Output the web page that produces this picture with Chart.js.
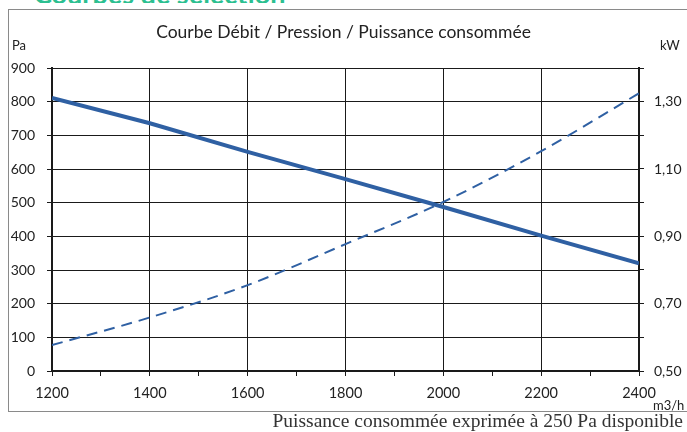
<!DOCTYPE html>
<html>
<head>
<meta charset="utf-8">
<script src="https://cdn.jsdelivr.net/npm/chart.js@4/dist/chart.umd.min.js"></script>
<style>
  html, body { margin: 0; padding: 0; background: #fff; }
  #page { position: relative; width: 687px; height: 432px; overflow: hidden; font-family: Lato, sans-serif; }
  #frame { position: absolute; left: 8px; top: 9px; width: 700px; height: 403px; border: 1.5px solid #8a8a8a; box-sizing: border-box; }
  #cv { position: absolute; left: 0; top: 0; }
  .lbl { position: absolute; color: #222; white-space: nowrap; }
  #headclip { position: absolute; left: 0; top: 0; width: 400px; height: 3px; overflow: hidden; }
  #head { position: absolute; left: 34px; bottom: -7px; line-height: 27px; font: bold 27px Lato, sans-serif; color: #2cbf90; white-space: nowrap; }
  #caption { position: absolute; right: 4px; top: 410px; font: 19.5px "Liberation Serif", serif; color: #333; white-space: nowrap; }
</style>
</head>
<body>
<div id="page">
  <div id="headclip"><div id="head">Courbes de sélection</div></div>
  <div id="frame"></div>
  <canvas id="cv" width="687" height="432"></canvas>
  <div class="lbl" style="left:12px; top:37px; font-size:13px;">Pa</div>
  <div class="lbl" style="left:660px; top:37px; font-size:13px;">kW</div>
  <div class="lbl" style="left:653px; top:397px; font-size:13px;">m3/h</div>
  <div id="caption">Puissance consommée exprimée à 250 Pa disponible</div>
</div>
<script>
// ── Data ──
const debit = [1200, 1400, 1600, 1800, 2000, 2200, 2400];          // m3/h
const pression = [811, 736, 651, 570, 487, 402, 320];                // Pa
const puissance = [0.577, 0.659, 0.755, 0.877, 1.002, 1.153, 1.325]; // kW
const title = 'Courbe Débit / Pression / Puissance consommée';

const BLUE = '#2f60a3';
const INK = '#1a1a1a';

Chart.defaults.font.family = 'Lato, sans-serif';
Chart.defaults.font.size = 14;
Chart.defaults.color = '#222';

const fit = (w, h) => scale => { if (w) scale.width = w; if (h) scale.height = h; };

new Chart(document.getElementById('cv'), {
  type: 'line',
  data: {
    datasets: [
      { label: 'Pression', data: debit.map((x, i) => ({ x, y: pression[i] })), yAxisID: 'y',
        borderColor: BLUE, borderWidth: 4, pointRadius: 0, tension: 0 },
      { label: 'Puissance', data: debit.map((x, i) => ({ x, y: puissance[i] })), yAxisID: 'y2',
        borderColor: BLUE, borderWidth: 2, borderDash: [11, 7], pointRadius: 0, cubicInterpolationMode: 'monotone' },
    ]
  },
  options: {
    responsive: false, animation: false,
    layout: { padding: { left: 0, right: 0, top: 0, bottom: 0 } },
    plugins: {
      legend: { display: false }, tooltip: { enabled: false },
      title: { display: true, text: title, color: '#222', font: { size: 17.5, weight: 'normal', lineHeight: 1.2 },
               padding: { top: 22, bottom: 25 } }
    },
    scales: {
      x: {
        type: 'linear', min: 1200, max: 2400,
        ticks: { stepSize: 100, padding: 9, maxRotation: 0, font: { size: 14.5 },
                 callback: v => v % 200 === 0 ? String(v) : '' },
        grid: { color: c => c.tick && c.tick.value % 200 === 0 ? INK : 'rgba(0,0,0,0)', tickColor: INK, tickLength: 5 },
        border: { color: INK, width: 2 },
        afterFit: fit(null, 61)
      },
      y: {
        position: 'left', min: 0, max: 900,
        ticks: { stepSize: 50, padding: 12, callback: v => v % 100 === 0 ? String(v) : '' },
        grid: { color: c => c.tick && c.tick.value % 100 === 0 ? INK : 'rgba(0,0,0,0)', tickColor: INK, tickLength: 5 },
        border: { color: INK, width: 2 },
        afterFit: fit(52)
      },
      y2: {
        position: 'right', min: 0.5, max: 1.4,
        ticks: { stepSize: 0.1, padding: 10,
                 callback: v => Math.round(v * 10) % 2 === 1 ? v.toFixed(2).replace('.', ',') : '' },
        grid: { drawOnChartArea: false, tickColor: INK, tickLength: 5 },
        border: { color: INK, width: 2 },
        afterFit: fit(48)
      }
    }
  }
});
</script>
</body>
</html>
